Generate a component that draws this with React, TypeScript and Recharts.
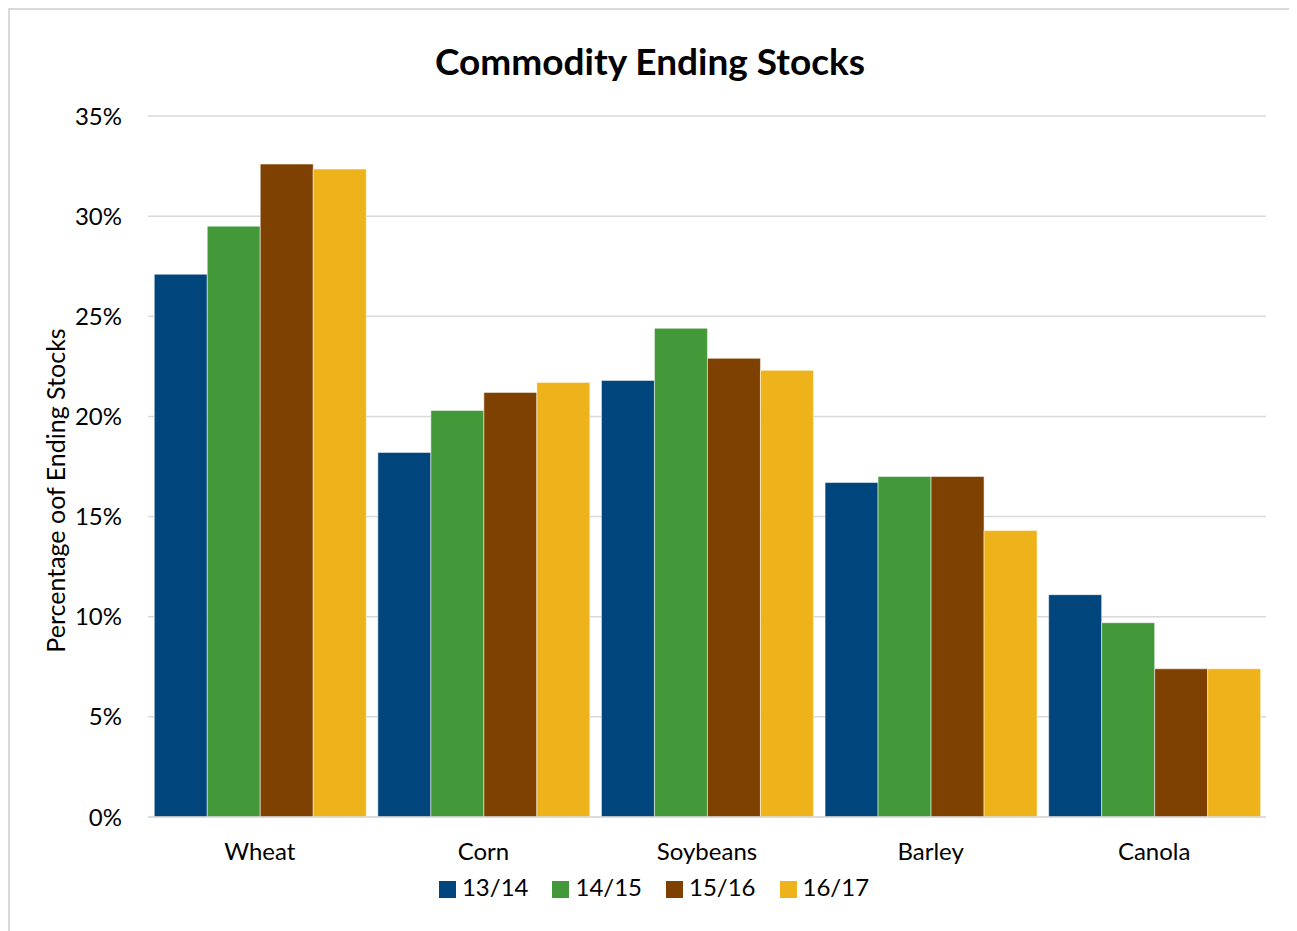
import React from "react";
import {
  BarChart,
  Bar,
  XAxis,
  YAxis,
  CartesianGrid,
  Legend,
} from "recharts";

const categories = ["Wheat", "Corn", "Soybeans", "Barley", "Canola"];
const seasons = ["13/14", "14/15", "15/16", "16/17"];
const s1314 = [27.1, 18.2, 21.8, 16.7, 11.1];
const s1415 = [29.5, 20.3, 24.4, 17.0, 9.7];
const s1516 = [32.6, 21.2, 22.9, 17.0, 7.4];
const s1617 = [32.35, 21.7, 22.3, 14.3, 7.4];
const yTicks = [0, 5, 10, 15, 20, 25, 30, 35];

const colors = ["#00457c", "#43983a", "#7f4100", "#eeb31a"];

const data = categories.map((name, i) => ({
  name,
  "13/14": s1314[i],
  "14/15": s1415[i],
  "15/16": s1516[i],
  "16/17": s1617[i],
}));

const font = "Lato, 'Liberation Sans', sans-serif";

export default function App() {
  return (
    <div
      style={{
        position: "relative",
        width: 1280,
        height: 921,
        border: "2px solid #d9d9d9",
        borderBottom: "none",
        fontFamily: font,
        background: "#fff",
      }}
    >
      <div
        style={{
          position: "absolute",
          top: 28,
          left: 0,
          width: 1280,
          textAlign: "center",
          fontSize: 37,
          fontWeight: 700,
          color: "#000",
        }}
      >
        Commodity Ending Stocks
      </div>
      <BarChart
        width={1280}
        height={921}
        data={data}
        margin={{ top: 106, right: 24, left: 0, bottom: 25 }}
        barCategoryGap="2.8%"
        barGap={0}
      >
        <CartesianGrid vertical={false} stroke="#d9d9d9" strokeWidth={1.5} />
        <XAxis
          dataKey="name"
          tick={{ fill: "#000", fontSize: 24, fontFamily: font }}
          tickLine={false}
          axisLine={{ stroke: "#d9d9d9", strokeWidth: 1.5 }}
          height={60}
          tickMargin={20}
        />
        <YAxis
          domain={[0, 35]}
          ticks={yTicks}
          tickFormatter={(v) => `${v}%`}
          tick={{ fill: "#000", fontSize: 24, fontFamily: font }}
          tickLine={false}
          axisLine={false}
          width={138}
          tickMargin={20}
          label={{
            value: "Percentage oof Ending Stocks",
            angle: -90,
            position: "insideLeft",
            offset: 46,
            dy: 24,
            style: { fill: "#000", fontSize: 25, fontFamily: font, textAnchor: "middle" },
          }}
        />
        <Legend
          verticalAlign="bottom"
          align="center"
          iconType="square"
          iconSize={17}
          wrapperStyle={{ fontSize: 24, fontFamily: font, color: "#000", bottom: 30, paddingLeft: 28 }}
          formatter={(value) => (
            <span style={{ color: "#000", marginLeft: 2, marginRight: 14 }}>{value}</span>
          )}
        />
        {seasons.map((s, i) => (
          <Bar
            key={s}
            dataKey={s}
            fill={colors[i]}
            stroke="#ffffff"
            strokeOpacity={0.5}
            strokeWidth={1}
            isAnimationActive={false}
          />
        ))}
      </BarChart>
    </div>
  );
}
